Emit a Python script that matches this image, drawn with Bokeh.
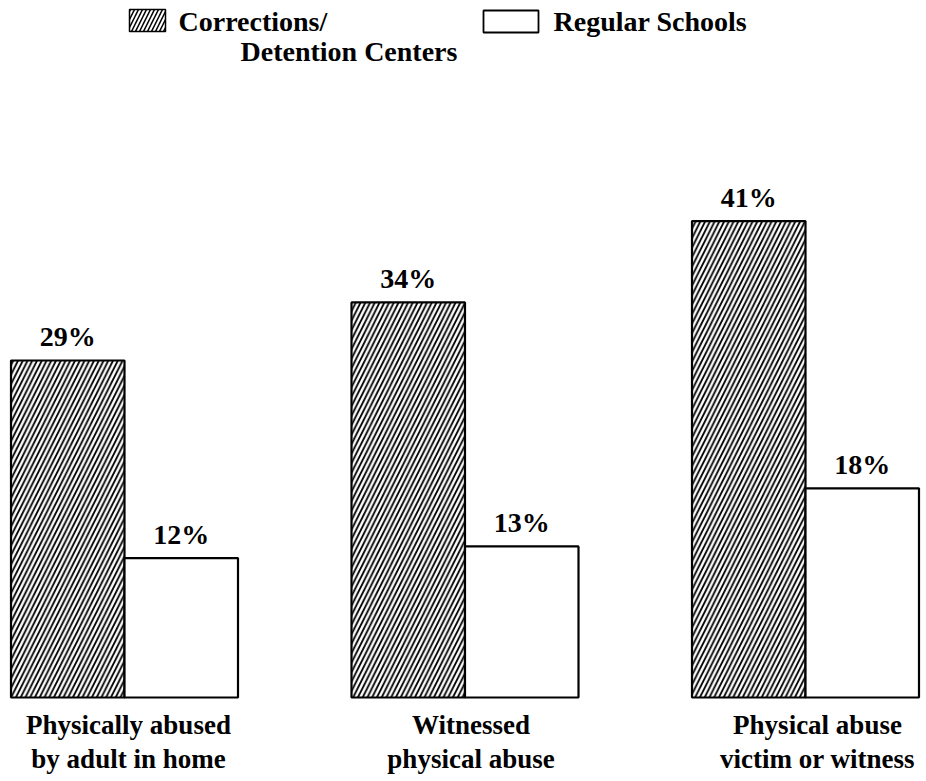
from bokeh.plotting import figure
from bokeh.models import Range1d
from bokeh.embed import file_html
from bokeh.resources import INLINE
from bokeh.core.properties import value

# ---- data ----
categories = ["Physically abused\nby adult in home",
              "Witnessed\nphysical abuse",
              "Physical abuse\nvictim or witness"]
corrections = [29, 34, 41]
regular = [12, 13, 18]
series_names = ["Corrections/\nDetention Centers", "Regular Schools"]

FONT = value("Liberation Serif")

W, H = 926, 781
# layout helpers (page pixel -> data)
GX0, GSP = 124.0, 340.5      # first group centre, group spacing (px)
Y0, YS = 697.0, 11.62        # baseline px, px per percent
TXT_SHIFT = 11               # renderer puts alphabetic baseline ~11px low
def X(px):
    return (px - GX0) / GSP
def Y(py):
    return (Y0 - py) / YS

p = figure(width=W, height=H, output_backend="svg", toolbar_location=None,
           x_range=Range1d(X(0), X(W)), y_range=Range1d(Y(H), Y(0)),
           min_border=0, outline_line_color=None)
p.axis.visible = False
p.grid.visible = False
p.background_fill_color = "white"
p.border_fill_color = "white"

bw = 113.5 / GSP
gx = list(range(len(categories)))
cx = [g - bw / 2 for g in gx]
rx = [g + bw / 2 for g in gx]

p.vbar(x=cx, top=corrections, bottom=0, width=bw, fill_color="white",
       hatch_pattern="/", hatch_color="black", hatch_scale=9.5, hatch_weight=1.8,
       line_color="black", line_width=2.2)
p.vbar(x=rx, top=regular, bottom=0, width=bw, fill_color="white",
       line_color="black", line_width=2.2)

# value labels
p.text(x=cx, y=corrections, text=[f"{v}%" for v in corrections],
       y_offset=-13 - TXT_SHIFT,
       text_align="center", text_baseline="alphabetic", text_font=FONT,
       text_font_style="bold", text_font_size="28px", text_color="black")
p.text(x=rx, y=regular, text=[f"{v}%" for v in regular],
       y_offset=-13 - TXT_SHIFT,
       text_align="center", text_baseline="alphabetic", text_font=FONT,
       text_font_style="bold", text_font_size="28px", text_color="black")

# category labels
label_dx = [4, 6, 12]
line1 = [c.split("\n")[0] for c in categories]
line2 = [c.split("\n")[1] for c in categories]
p.text(x=gx, y=[0] * 3, text=line1, x_offset=label_dx, y_offset=38 - TXT_SHIFT,
       text_align="center", text_baseline="alphabetic", text_font=FONT,
       text_font_style="bold", text_font_size="27px", text_color="black")
p.text(x=gx, y=[0] * 3, text=line2, x_offset=label_dx, y_offset=72 - TXT_SHIFT,
       text_align="center", text_baseline="alphabetic", text_font=FONT,
       text_font_style="bold", text_font_size="27px", text_color="black")

# legend (manual)
p.quad(left=[X(129)], right=[X(165)], top=[Y(9)], bottom=[Y(31)],
       fill_color="white", hatch_pattern="/", hatch_color="black",
       hatch_scale=8, hatch_weight=1.5, line_color="black", line_width=1.5)
p.quad(left=[X(483)], right=[X(538)], top=[Y(10)], bottom=[Y(32)],
       fill_color="white", line_color="black", line_width=1.8)
s1a, s1b = series_names[0].split("\n")
p.text(x=[X(178)], y=[Y(32 - TXT_SHIFT)], text=[s1a], text_align="left",
       text_baseline="alphabetic", text_font=FONT, text_font_style="bold",
       text_font_size="28px", text_color="black")
p.text(x=[X(240)], y=[Y(62 - TXT_SHIFT)], text=[s1b], text_align="left",
       text_baseline="alphabetic", text_font=FONT, text_font_style="bold",
       text_font_size="28px", text_color="black")
p.text(x=[X(553)], y=[Y(32 - TXT_SHIFT)], text=[series_names[1]], text_align="left",
       text_baseline="alphabetic", text_font=FONT, text_font_style="bold",
       text_font_size="28px", text_color="black")

open("out.html", "w").write(file_html(p, INLINE))
